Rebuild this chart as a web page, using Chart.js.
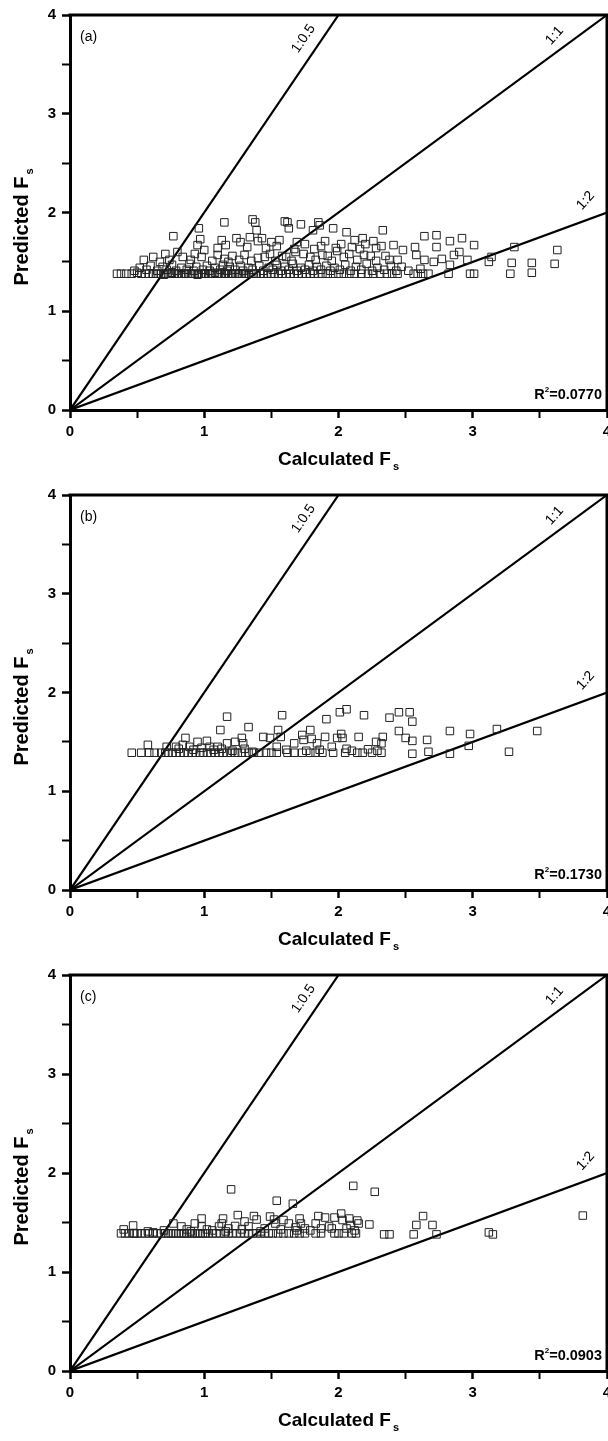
<!DOCTYPE html>
<html>
<head>
<meta charset="utf-8">
<script src="https://cdn.jsdelivr.net/npm/chart.js@4.4.1/dist/chart.umd.min.js"></script>
<style>
  html, body { margin: 0; padding: 0; background: #fff; }
  canvas { display: block; }
</style>
</head>
<body>
<canvas id="panelA" width="608" height="480"></canvas>
<canvas id="panelB" width="608" height="480"></canvas>
<canvas id="panelC" width="608" height="481"></canvas>
<script>
// axis ticks (major ones get a label)
const xTicks = [0, 1, 2, 3, 4];
const yTicks = [0, 1, 2, 3, 4];

// reference lines  (predicted = k * calculated)
const lineNames = ['1:0.5', '1:1', '1:2'];
const lineEndX = [2, 4, 4];
const lineEndY = [4, 4, 2];

const panelTags = ['(a)', '(b)', '(c)'];
const panelR2 = ['0.0770', '0.1730', '0.0903'];

// panel (a): calculated Fs / predicted Fs
const aX = [
  // bottom row
  0.35,0.38,0.42,0.46,0.50,0.53,0.56,0.59,0.62,0.64,
  0.66,0.68,0.70,0.71,0.73,0.75,0.76,0.78,0.80,0.81,
  0.83,0.85,0.86,0.88,0.90,0.91,0.93,0.95,0.96,0.98,
  1.00,1.01,1.03,1.05,1.06,1.08,1.10,1.11,1.13,1.15,
  1.16,1.18,1.20,1.21,1.23,1.25,1.26,1.28,1.30,1.31,
  1.33,1.35,1.37,1.39,1.42,1.44,1.47,1.50,1.52,1.55,
  1.58,1.61,1.64,1.67,1.70,1.73,1.76,1.79,1.82,1.85,
  1.88,1.92,1.96,2.00,2.04,2.08,2.12,2.17,2.22,2.26,
  2.31,2.36,2.40,2.44,2.56,2.59,2.63,2.67,2.82,2.98,
  3.01,3.28,3.44,
  // low band
  0.48,0.52,0.57,0.60,0.65,0.69,0.72,0.76,0.79,0.83,
  0.87,0.89,0.92,0.94,0.99,1.02,1.04,1.08,1.12,1.14,
  1.17,1.19,1.23,1.27,1.29,1.33,1.36,1.41,1.44,1.48,
  1.51,1.54,1.57,1.60,1.63,1.66,1.69,1.72,1.75,1.78,
  1.81,1.84,1.87,1.91,1.94,1.97,2.01,2.05,2.09,2.13,
  2.17,2.21,2.25,2.29,2.34,2.39,2.43,2.47,2.52,2.61,
  // middle band
  0.55,0.62,0.67,0.71,0.74,0.80,0.84,0.90,0.93,0.98,
  1.00,1.06,1.10,1.15,1.18,1.21,1.26,1.30,1.35,1.40,
  1.45,1.49,1.53,1.58,1.61,1.65,1.68,1.74,1.79,1.83,
  1.88,1.92,1.95,1.99,2.04,2.08,2.14,2.19,2.24,2.28,
  2.35,2.38,2.44,2.58,2.64,2.71,2.77,2.86,2.96,3.12,
  3.14,3.29,3.44,3.61,2.83,2.90,
  // upper band
  0.77,0.95,0.96,0.97,1.13,1.15,1.16,1.24,1.32,1.34,
  1.36,1.38,1.39,1.40,1.43,1.50,1.54,1.56,1.60,1.62,
  1.63,1.67,1.69,1.72,1.75,1.81,1.82,1.85,1.86,1.87,
  1.90,1.96,1.98,2.02,2.06,2.12,2.16,2.18,2.20,2.26,
  2.28,2.32,2.33,2.41,2.48,2.57,2.64,2.73,2.73,2.83,
  2.92,3.01,3.31,3.63,1.10,1.27,1.46,2.10
];
const aY = [
  1.38,1.38,1.38,1.38,1.39,1.38,1.38,1.38,1.38,1.38,
  1.38,1.38,1.37,1.38,1.38,1.38,1.39,1.38,1.38,1.38,
  1.38,1.38,1.38,1.38,1.38,1.38,1.38,1.37,1.38,1.38,
  1.38,1.38,1.38,1.38,1.38,1.39,1.38,1.38,1.38,1.38,
  1.38,1.38,1.38,1.38,1.38,1.38,1.38,1.38,1.38,1.38,
  1.38,1.38,1.38,1.38,1.38,1.38,1.38,1.38,1.38,1.38,
  1.38,1.38,1.38,1.38,1.38,1.38,1.38,1.38,1.38,1.38,
  1.38,1.38,1.38,1.38,1.38,1.38,1.38,1.38,1.38,1.38,
  1.38,1.38,1.38,1.38,1.38,1.38,1.38,1.38,1.38,1.38,
  1.38,1.38,1.39,
  1.41,1.44,1.42,1.46,1.41,1.45,1.42,1.47,1.41,1.44,
  1.42,1.48,1.41,1.45,1.42,1.46,1.41,1.44,1.42,1.47,
  1.41,1.45,1.42,1.46,1.41,1.44,1.42,1.46,1.41,1.44,
  1.42,1.47,1.41,1.45,1.42,1.48,1.41,1.44,1.42,1.47,
  1.41,1.45,1.42,1.46,1.41,1.44,1.42,1.47,1.41,1.45,
  1.42,1.48,1.41,1.44,1.42,1.46,1.41,1.45,1.41,1.43,
  1.52,1.55,1.50,1.58,1.52,1.60,1.55,1.52,1.58,1.55,
  1.62,1.51,1.57,1.53,1.50,1.56,1.52,1.57,1.51,1.54,
  1.55,1.58,1.51,1.56,1.55,1.51,1.60,1.58,1.55,1.52,
  1.57,1.56,1.51,1.61,1.55,1.58,1.52,1.57,1.56,1.51,
  1.56,1.52,1.52,1.57,1.52,1.50,1.53,1.57,1.52,1.50,
  1.55,1.49,1.49,1.48,1.47,1.60,
  1.76,1.67,1.84,1.73,1.72,1.90,1.67,1.74,1.65,1.75,
  1.93,1.90,1.82,1.71,1.74,1.70,1.66,1.72,1.91,1.90,
  1.84,1.63,1.70,1.88,1.68,1.82,1.63,1.90,1.87,1.66,
  1.71,1.84,1.64,1.68,1.80,1.72,1.63,1.74,1.68,1.71,
  1.64,1.66,1.82,1.67,1.62,1.65,1.76,1.77,1.65,1.71,
  1.74,1.67,1.65,1.62,1.64,1.70,1.64,1.65
];

// panel (b)
const bX = [
  0.46,0.53,0.59,0.63,0.68,0.71,0.73,0.76,0.79,0.82,
  0.85,0.88,0.91,0.94,0.97,0.99,1.02,1.05,1.08,1.11,
  1.14,1.17,1.20,1.23,1.25,1.28,1.33,1.37,1.41,1.46,
  1.50,1.54,1.62,1.67,1.73,1.79,1.83,1.88,1.96,2.05,
  2.14,2.18,2.25,2.32,2.55,2.83,
  0.58,0.86,0.79,0.84,0.95,1.02,1.10,1.12,1.17,1.17,
  1.23,1.28,1.29,1.30,1.33,1.44,1.49,1.55,1.57,1.58,
  1.54,1.67,1.73,1.74,1.79,1.80,1.84,1.90,1.91,1.95,
  1.99,2.01,2.02,2.03,2.06,2.06,2.15,2.19,2.22,2.28,
  2.32,2.33,2.38,2.45,2.45,2.50,2.53,2.55,2.55,2.66,
  2.67,2.83,2.97,2.98,3.18,3.27,3.48,0.72,0.89,1.04,
  0.81,0.92,0.98,1.07,1.13,1.21,1.36,1.61,1.76,1.86,
  2.10,2.29
];
const bY = [
  1.39,1.39,1.39,1.39,1.39,1.39,1.39,1.39,1.39,1.39,
  1.39,1.39,1.39,1.39,1.39,1.39,1.39,1.39,1.39,1.39,
  1.39,1.39,1.39,1.39,1.39,1.39,1.39,1.39,1.39,1.39,
  1.39,1.39,1.39,1.39,1.39,1.39,1.39,1.39,1.39,1.39,
  1.39,1.39,1.39,1.39,1.38,1.38,
  1.47,1.54,1.45,1.47,1.50,1.51,1.45,1.62,1.755,1.485,
  1.50,1.54,1.485,1.43,1.65,1.55,1.54,1.62,1.55,1.77,
  1.45,1.485,1.57,1.52,1.62,1.53,1.485,1.55,1.73,1.45,
  1.54,1.80,1.58,1.54,1.83,1.43,1.55,1.77,1.425,1.50,
  1.485,1.55,1.745,1.61,1.80,1.54,1.80,1.705,1.51,1.52,
  1.40,1.61,1.46,1.58,1.63,1.40,1.61,1.45,1.45,1.45,
  1.43,1.42,1.44,1.42,1.43,1.41,1.40,1.42,1.41,1.42,
  1.41,1.41
];

// panel (c)
const cX = [
  0.38,0.41,0.44,0.47,0.50,0.53,0.56,0.59,0.62,0.65,
  0.68,0.71,0.73,0.75,0.77,0.79,0.81,0.83,0.85,0.87,
  0.89,0.91,0.93,0.95,0.97,0.99,1.01,1.03,1.06,1.09,
  1.12,1.15,1.18,1.21,1.24,1.27,1.30,1.33,1.36,1.39,
  1.42,1.45,1.48,1.51,1.55,1.59,1.63,1.67,1.71,1.75,
  1.83,1.87,1.97,2.00,2.04,2.10,2.13,2.34,2.38,2.56,
  2.73,3.12,3.15,
  0.40,0.47,0.48,0.58,0.77,0.83,0.87,0.93,0.98,0.98,
  1.06,1.11,1.14,1.13,1.20,1.18,1.23,1.25,1.30,1.33,
  1.37,1.39,1.45,1.49,1.52,1.54,1.53,1.59,1.63,1.66,
  1.69,1.71,1.72,1.75,1.83,1.85,1.87,1.90,1.95,1.97,
  2.02,2.03,2.08,2.09,2.11,2.12,2.14,2.15,2.23,2.27,
  2.58,2.63,2.70,3.82,
  0.62,0.70,0.90,1.02,1.16,1.28,1.42,1.57,1.68,1.79,
  1.93,2.06
];
const cY = [
  1.39,1.39,1.39,1.39,1.39,1.39,1.39,1.39,1.39,1.39,
  1.39,1.39,1.39,1.39,1.39,1.39,1.39,1.39,1.39,1.39,
  1.39,1.39,1.39,1.39,1.39,1.39,1.39,1.39,1.39,1.39,
  1.39,1.39,1.39,1.39,1.39,1.39,1.39,1.39,1.39,1.39,
  1.39,1.39,1.39,1.39,1.39,1.39,1.39,1.39,1.39,1.39,
  1.39,1.39,1.39,1.39,1.39,1.39,1.39,1.38,1.38,1.38,
  1.38,1.40,1.38,
  1.43,1.47,1.39,1.41,1.49,1.46,1.43,1.49,1.54,1.46,
  1.42,1.46,1.54,1.49,1.835,1.44,1.465,1.575,1.51,1.46,
  1.565,1.53,1.44,1.56,1.53,1.72,1.49,1.525,1.49,1.69,
  1.42,1.54,1.49,1.44,1.49,1.565,1.44,1.55,1.44,1.55,
  1.59,1.525,1.54,1.475,1.87,1.42,1.52,1.49,1.48,1.81,
  1.475,1.565,1.475,1.57,
  1.40,1.42,1.41,1.43,1.41,1.43,1.41,1.43,1.45,1.42,
  1.46,1.44
];

Chart.defaults.font.family = '"Liberation Sans", Arial, sans-serif';
Chart.defaults.color = '#000';

const FONT = '"Liberation Sans", Arial, sans-serif';

// text bits the library has no option for: frame top/right, panel tag, R2, line labels, titles with subscripts
const decor = {
  id: 'decor',
  afterDraw(chart, args, opts) {
    const { ctx, chartArea: a, scales: { x, y } } = chart;
    ctx.save();
    ctx.strokeStyle = '#000';
    ctx.lineWidth = 3;
    ctx.beginPath();
    ctx.moveTo(a.left - 1.5, a.top);
    ctx.lineTo(a.right, a.top);
    ctx.lineTo(a.right, a.bottom + 1.5);
    ctx.stroke();

    ctx.fillStyle = '#000';
    ctx.textAlign = 'left';
    ctx.textBaseline = 'alphabetic';
    ctx.font = '14px ' + FONT;
    ctx.fillText(opts.tag, a.left + 10, a.top + 26);

    // line labels
    const spots = [[1.74, 3.76, -56], [3.61, 3.79, -48], [3.84, 2.12, -48]];
    ctx.font = '14px ' + FONT;
    lineNames.forEach((name, i) => {
      ctx.save();
      ctx.translate(x.getPixelForValue(spots[i][0]), y.getPixelForValue(spots[i][1]));
      ctx.rotate(spots[i][2] * Math.PI / 180);
      ctx.textAlign = 'center';
      ctx.textBaseline = 'middle';
      ctx.fillText(name, 0, 0);
      ctx.restore();
    });

    // R^2
    ctx.font = 'bold 14.5px ' + FONT;
    const tail = '=' + opts.r2;
    const wTail = ctx.measureText(tail).width;
    const wR = ctx.measureText('R').width;
    ctx.font = 'bold 8px ' + FONT;
    const w2 = ctx.measureText('2').width;
    let rx = a.right - 5 - wTail - w2 - wR;
    const ry = a.bottom - 11;
    ctx.font = 'bold 14.5px ' + FONT;
    ctx.fillText('R', rx, ry);
    ctx.font = 'bold 8px ' + FONT;
    ctx.fillText('2', rx + wR, ry - 7);
    ctx.font = 'bold 14.5px ' + FONT;
    ctx.fillText(tail, rx + wR + w2, ry);

    // axis titles
    const drawSub = (main, sub, cx, base, size) => {
      ctx.font = 'bold ' + size + 'px ' + FONT;
      const wm = ctx.measureText(main).width;
      ctx.font = 'bold 11px ' + FONT;
      const ws = ctx.measureText(sub).width;
      const left = cx - (wm + 2 + ws) / 2;
      ctx.font = 'bold ' + size + 'px ' + FONT;
      ctx.fillText(main, left, base);
      ctx.font = 'bold 11px ' + FONT;
      ctx.fillText(sub, left + wm + 2, base + 5);
    };
    drawSub('Calculated F', 's', (a.left + a.right) / 2, a.bottom + 55, 19);
    ctx.save();
    ctx.translate(28, a.top + 212);
    ctx.rotate(-Math.PI / 2);
    drawSub('Predicted F', 's', 0, 0, 20);
    ctx.restore();
    ctx.restore();
  }
};

function axis(fitSize, isX, ticks) {
  return {
    type: 'linear',
    min: ticks[0],
    max: ticks[ticks.length - 1],
    ticks: {
      stepSize: 0.5,
      autoSkip: false,
      maxRotation: 0,
      padding: isX ? 5 : 6,
      font: { size: 15, weight: 'bold' },
      color: '#000',
      callback: v => (ticks.includes(v) ? String(v) : '')
    },
    grid: {
      drawOnChartArea: false,
      drawTicks: true,
      tickLength: 8,
      tickColor: '#000',
      tickWidth: c => (c.tick && c.tick.value % 1 === 0 ? 2.5 : 2)
    },
    border: { display: true, color: '#000', width: 3 },
    afterFit: s => {
      if (isX) s.height = fitSize; else s.width = fitSize;
      s.paddingLeft = 0; s.paddingRight = 0; s.paddingTop = 0; s.paddingBottom = 0;
    }
  };
}

function makePanel(id, idx, xs, ys) {
  const pts = xs.map((v, i) => ({ x: v, y: ys[i] }));
  const lines = lineNames.map((name, i) => ({
    type: 'line',
    label: name,
    data: [{ x: 0, y: 0 }, { x: lineEndX[i], y: lineEndY[i] }],
    borderColor: '#000',
    borderWidth: 2.2,
    pointRadius: 0,
    fill: false
  }));
  return new Chart(document.getElementById(id), {
    type: 'scatter',
    data: {
      datasets: [{
        label: 'Fs',
        data: pts,
        pointStyle: 'rect',
        pointRadius: 5.3,
        borderColor: '#222',
        borderWidth: 1,
        backgroundColor: 'rgba(255,255,255,0)'
      }].concat(lines)
    },
    options: {
      responsive: false,
      devicePixelRatio: 1,
      animation: false,
      events: [],
      layout: { autoPadding: false, padding: { top: 15, right: 1, left: 0, bottom: 0 } },
      plugins: {
        legend: { display: false },
        tooltip: { enabled: false },
        decor: { tag: panelTags[idx], r2: panelR2[idx] }
      },
      scales: {
        x: axis(70, true, xTicks),
        y: axis(70, false, yTicks)
      }
    },
    plugins: [decor]
  });
}

makePanel('panelA', 0, aX, aY);
makePanel('panelB', 1, bX, bY);
makePanel('panelC', 2, cX, cY);
</script>
</body>
</html>
